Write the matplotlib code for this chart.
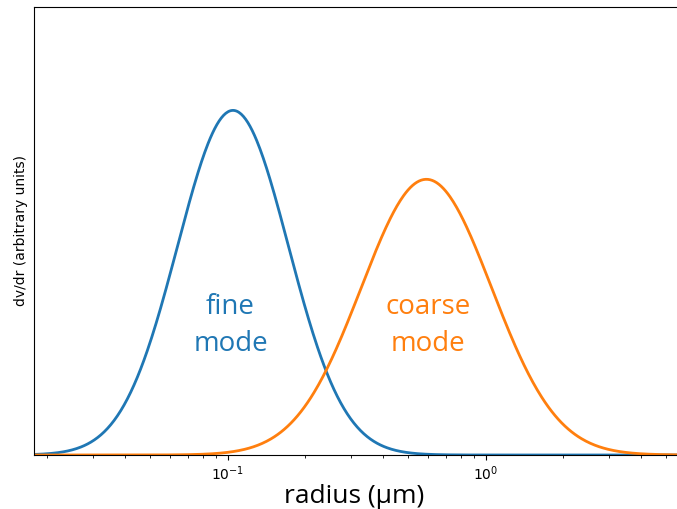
import matplotlib
matplotlib.use('Agg')

import numpy as np
import matplotlib.pyplot as plt

# lognormal volume modes: mode radius (um), geometric std dev, peak height
mode_names = ['fine\nmode', 'coarse\nmode']
mode_radius = [0.105, 0.59]
mode_sigma = [1.64, 1.79]
mode_peak = [1.0, 0.80]
mode_colors = ['#1f77b4', '#ff7f0e']

# where the mode labels sit (radius, height)
label_x = [0.1027, 0.598]
label_y = [0.375, 0.375]

r_min = 0.0177
r_max = 6.5


def lognormal(r, r_mode, sigma_g, peak):
    s = np.log(sigma_g)
    return peak * np.exp(-np.log(r / r_mode) ** 2 / (2 * s ** 2))


def main():
    fig = plt.figure(figsize=(6.77, 5.09), dpi=100)

    # axes run past the right edge of the figure
    decade = 258.0
    left_px = 33.5
    width_px = decade * (np.log10(r_max) - np.log10(r_min))
    ax = fig.add_axes([left_px / 677, 54 / 509, width_px / 677, 448 / 509])

    r = np.logspace(np.log10(r_min), np.log10(r_max), 600)
    for rm, sg, pk, c in zip(mode_radius, mode_sigma, mode_peak, mode_colors):
        ax.plot(r, lognormal(r, rm, sg, pk), color=c, lw=2)

    for name, x, y, c in zip(mode_names, label_x, label_y, mode_colors):
        ax.text(x, y, name, color=c, fontsize=20, ha='center', va='center',
                family='Open Sans', linespacing=1.45)

    ax.set_xscale('log')
    ax.set_xlim(r_min, r_max)
    ax.set_ylim(0, 1.3)
    ax.set_yticks([])
    ax.set_xlabel('radius (\u03bcm)', fontsize=19, family='Open Sans')
    ax.xaxis.set_label_coords((354 - left_px) / width_px, -0.064)
    ax.set_ylabel('dv/dr (arbitrary units)')

    fig.savefig('out.png', dpi=100)
    plt.close(fig)


if __name__ == '__main__':
    main()
